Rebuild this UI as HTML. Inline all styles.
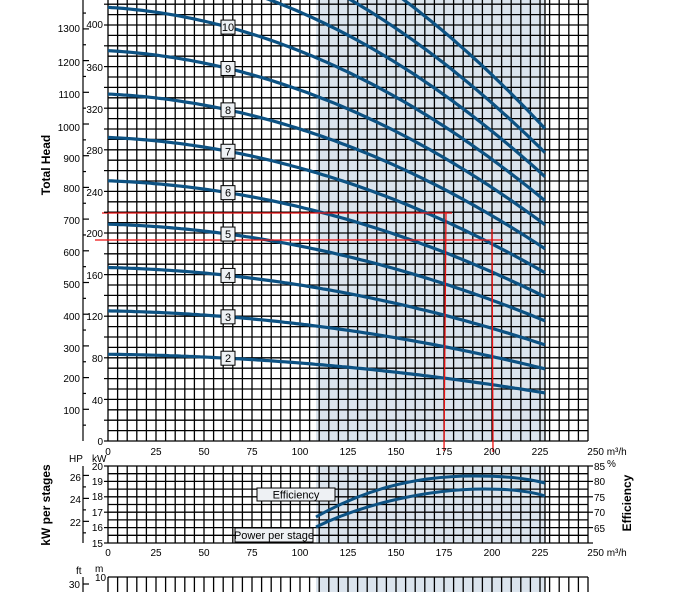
<!DOCTYPE html>
<html><head><meta charset="utf-8"><style>
html,body{margin:0;padding:0;background:#fff;}
svg{display:block;font-family:"Liberation Sans",sans-serif;}
</style></head><body>
<svg id="s" width="677" height="592" viewBox="0 0 677 592" xmlns="http://www.w3.org/2000/svg">
<rect width="677" height="592" fill="#fff"/>
<rect x="316" y="0" width="229" height="441" fill="#dbe4ed"/>
<rect x="316" y="466" width="229" height="77" fill="#dbe4ed"/>
<rect x="316" y="577" width="229" height="15" fill="#dbe4ed"/>
<g id="grid" stroke="#000" stroke-width="1.3" fill="none"></g>
<g id="curves" fill="none" stroke="#0d5283" stroke-width="3.2"></g>
<g stroke="#ee1111" stroke-width="1.3" fill="none">
<line x1="102" y1="213" x2="452" y2="213"/>
<line x1="95" y1="240" x2="503" y2="240"/>
<line x1="446" y1="212" x2="444" y2="451"/>
<line x1="492" y1="229" x2="493" y2="452"/>
</g>
<g fill="none" stroke="#0d5283" stroke-width="3">
<path d="M316 517 C360 492 410 476 473 476 C505 476 525 478 545 483"/>
<path d="M316 527 C365 503 430 489 485 489 C510 489 530 491 545 496"/>
</g>
<g font-size="11" text-anchor="middle" fill="#000">
<g id="lbls"></g>
</g>
<rect x="257" y="488" width="78" height="13" fill="#eef1f4" stroke="#000" stroke-width="1"/>
<text x="296" y="498.5" font-size="11" text-anchor="middle">Efficiency</text>
<rect x="235" y="528" width="78" height="14" fill="#eef1f4" stroke="#000" stroke-width="1"/>
<text x="274" y="539" font-size="11" text-anchor="middle">Power per stage</text>
<g font-size="10" text-anchor="end" fill="#000">
<text x="80" y="32">1300</text><text x="80" y="66">1200</text><text x="80" y="98">1100</text>
<text x="80" y="131">1000</text><text x="80" y="162">900</text><text x="80" y="192">800</text>
<text x="80" y="224">700</text><text x="80" y="256">600</text><text x="80" y="288">500</text>
<text x="80" y="320">400</text><text x="80" y="352">300</text><text x="80" y="382">200</text>
<text x="80" y="414">100</text>
<text x="103" y="28">400</text><text x="103" y="71">360</text><text x="103" y="113">320</text>
<text x="103" y="154">280</text><text x="103" y="196">240</text><text x="103" y="237">200</text>
<text x="103" y="279">160</text><text x="103" y="320">120</text><text x="103" y="362">80</text>
<text x="103" y="404">40</text><text x="103" y="445">0</text>
<text x="103" y="470">20</text><text x="103" y="485">19</text><text x="103" y="500">18</text>
<text x="103" y="516">17</text><text x="103" y="531">16</text><text x="103" y="547">15</text>
<text x="81" y="481">26</text><text x="81" y="503">24</text><text x="81" y="526">22</text>
<text x="80" y="588">30</text>
</g>
<g font-size="10" fill="#000">
<text x="69" y="462">HP</text><text x="92" y="462">kW</text>
<text x="76" y="574">ft</text><text x="95" y="572">m</text><text x="95" y="581">10</text>
<text x="594" y="470">85</text><text x="594" y="485">80</text><text x="594" y="501">75</text>
<text x="594" y="516">70</text><text x="594" y="532">65</text><text x="607" y="467">%</text>
</g>
<g font-size="10" text-anchor="middle" fill="#000">
<text x="108" y="455">0</text><text x="156" y="455">25</text><text x="204" y="455">50</text>
<text x="252" y="455">75</text><text x="300" y="455">100</text><text x="348" y="455">125</text>
<text x="396" y="455">150</text><text x="444" y="455">175</text><text x="492" y="455">200</text>
<text x="540" y="455">225</text><text x="607" y="455">250 m³/h</text>
<text x="108" y="556">0</text><text x="156" y="556">25</text><text x="204" y="556">50</text>
<text x="252" y="556">75</text><text x="300" y="556">100</text><text x="348" y="556">125</text>
<text x="396" y="556">150</text><text x="444" y="556">175</text><text x="492" y="556">200</text>
<text x="540" y="556">225</text><text x="607" y="556">250 m³/h</text>
</g>
<g font-size="12" font-weight="bold" text-anchor="middle" fill="#000">
<text transform="translate(50,165) rotate(-90)">Total Head</text>
<text transform="translate(50,505) rotate(-90)">kW per stages</text>
<text transform="translate(631,503) rotate(-90)">Efficiency</text>
</g>
<g id="axes" stroke="#000" stroke-width="1.2"></g>
</svg>
<script>
var NS="http://www.w3.org/2000/svg";
function L(g,x1,y1,x2,y2){var l=document.createElementNS(NS,"line");l.setAttribute("x1",x1);l.setAttribute("y1",y1);l.setAttribute("x2",x2);l.setAttribute("y2",y2);g.appendChild(l);}
var g=document.getElementById("grid");
for(var q=0;q<=250;q+=5){var x=108+1.92*q;L(g,x,0,x,441);L(g,x,466,x,543);L(g,x,577,x,592);}
L(g,545,0,545,441);L(g,545,466,545,543);L(g,545,577,545,592);
for(var m=0;m<=424;m+=10){var y=441-1.04*m;L(g,108,y,588,y);}
for(var i=0;i<=10;i++){var y=466+i*7.7;L(g,108,y,588,y);}
L(g,108,577,588,577);
var a=document.getElementById("axes");
L(a,83,0,83,441);L(a,83,466,83,543);L(a,83,577,83,592);
for(var m=0;m<=420;m+=20){var y=441-1.04*m;L(a,104,y,108,y);}
for(var f=50;f<=1350;f+=50){var y=441-f*0.3048*1.04;if(y>0)L(a,83,y,f%100==0?89:86,y);}
for(var i=0;i<=5;i++){var y=466+i*15.4;L(a,104,y,108,y);L(a,588,y,593,y);}
for(var hp=21;hp<=26;hp++){var y=466+(20-hp*0.7457)*15.4;L(a,83,y,hp%2==0?89:86,y);}
L(a,83,584,89,584);
var c=document.getElementById("curves");
function h(q){return 41.7-0.011*q-3.106e-4*q*q;}
for(var n=2;n<=13;n++){var d="";for(var q=0;q<=228;q+=2){var qq=Math.min(q,227.6);var x=108+1.92*qq,y=441-1.04*n*h(qq);d+=(d?"L":"M")+x.toFixed(1)+" "+y.toFixed(1);}
var p=document.createElementNS(NS,"path");p.setAttribute("d",d);c.appendChild(p);}
var lb=document.getElementById("lbls");
for(var n=2;n<=10;n++){var y=441-1.04*n*h(62.5);var r=document.createElementNS(NS,"rect");r.setAttribute("x",221);r.setAttribute("y",y-7);r.setAttribute("width",14);r.setAttribute("height",14);r.setAttribute("fill","#eef1f4");r.setAttribute("stroke","#000");lb.appendChild(r);
var t=document.createElementNS(NS,"text");t.setAttribute("x",228);t.setAttribute("y",y+4);t.textContent=n;lb.appendChild(t);}
</script>
</body></html>
